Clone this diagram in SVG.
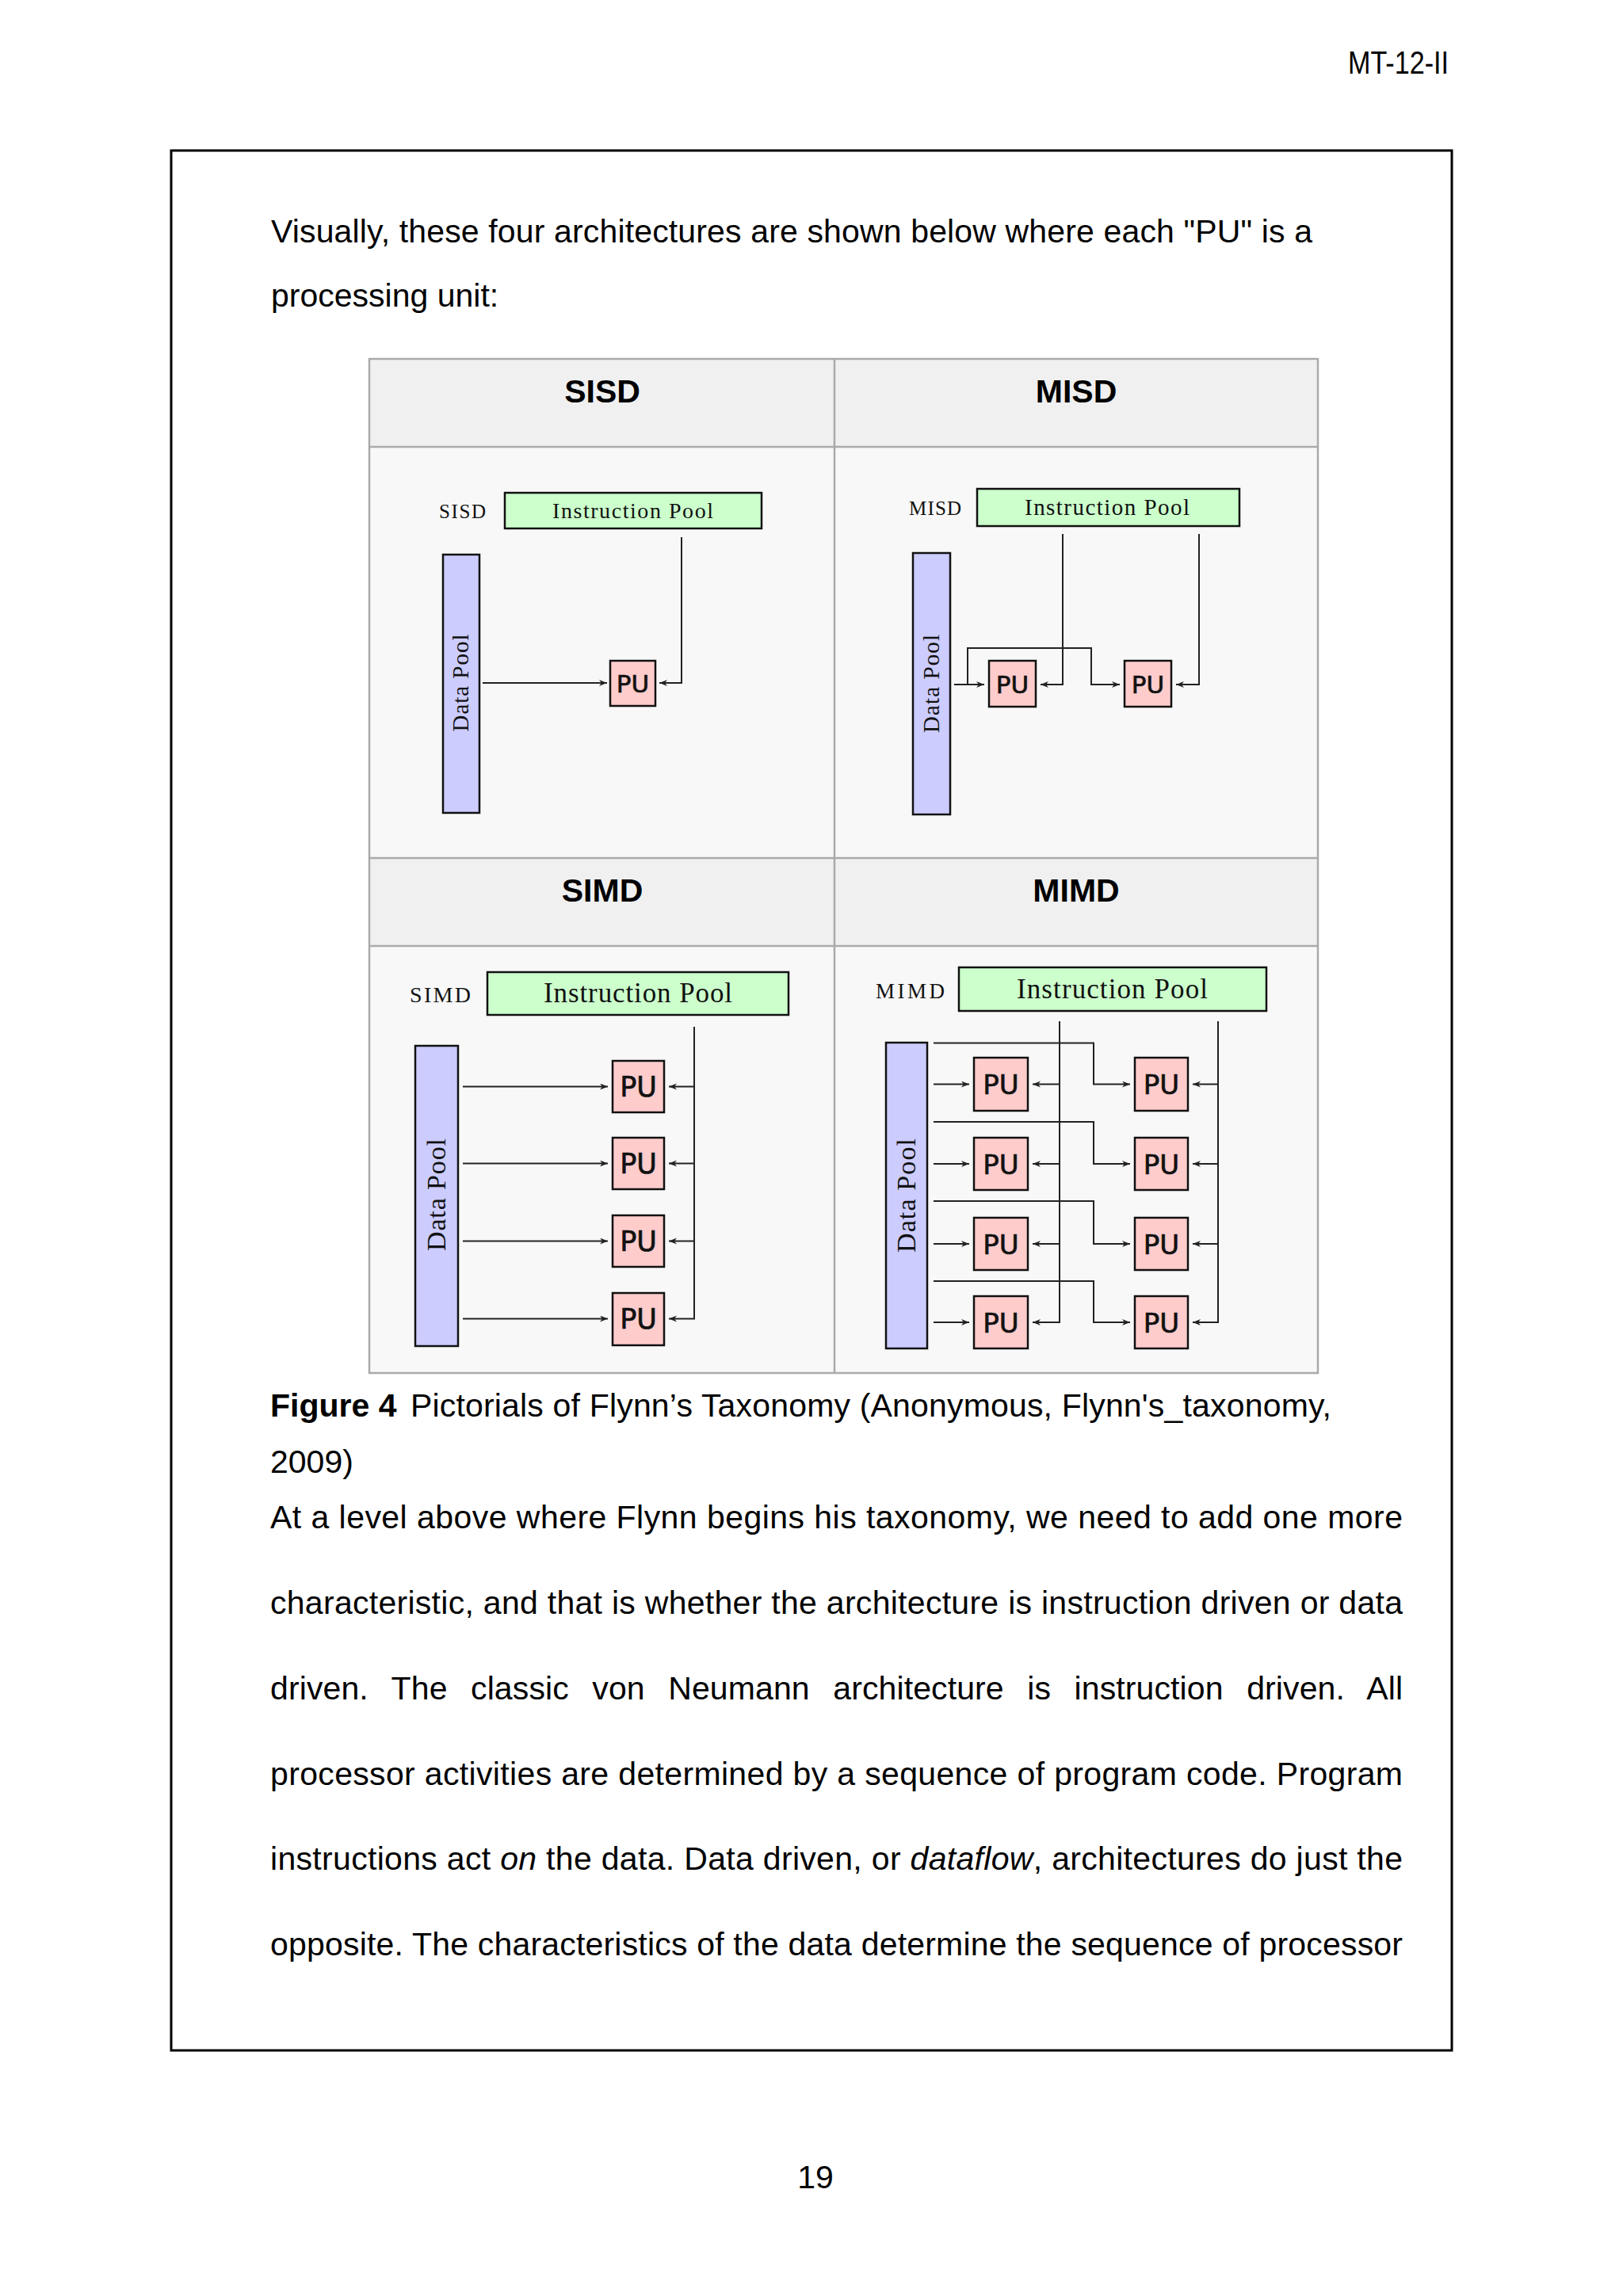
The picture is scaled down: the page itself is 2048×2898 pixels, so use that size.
<svg xmlns="http://www.w3.org/2000/svg" width="2048" height="2898" viewBox="0 0 2048 2898">
<style>
.body{font-family:"Liberation Sans",Arial,sans-serif;font-size:41px;fill:#000}
.hdr{font-family:"Liberation Sans",Arial,sans-serif;font-size:41px;font-weight:bold;text-anchor:middle;fill:#000}
.cm{font-family:"Liberation Serif","DejaVu Serif",serif;fill:#111}
.ip{fill:#ccffcc;stroke:#111;stroke-width:2.5}
.dp{fill:#ccccff;stroke:#111;stroke-width:2.5}
.pu{fill:#ffcccc;stroke:#111;stroke-width:2.5}
.put{font-family:"DejaVu Sans",sans-serif;text-anchor:middle;fill:#111;stroke:#111;stroke-width:0.7}
.cn{fill:none;stroke:#222;stroke-width:2}
.hcell{fill:#f0f0f0}
.ccell{fill:#f8f8f8}
.grid{fill:none;stroke:#aaaaaa;stroke-width:2.5}
</style>
<defs>
<marker id="ah" markerUnits="userSpaceOnUse" markerWidth="12" markerHeight="10" refX="10" refY="4" orient="auto">
<path d="M0,0 L10,4 L0,8 L3,4 z" fill="#222"/>
</marker>
</defs>
<rect x="0" y="0" width="2048" height="2898" fill="#ffffff"/>
<text class="body" x="1701" y="93" font-size="34" textLength="127" lengthAdjust="spacingAndGlyphs">MT-12-II</text>
<rect x="216" y="190" width="1616" height="2398" fill="none" stroke="#000" stroke-width="3"/>
<text class="body" x="342" y="306" textLength="1314" lengthAdjust="spacing">Visually, these four architectures are shown below where each "PU" is a</text>
<text class="body" x="342" y="387">processing unit:</text>

<g id="table">
<rect class="hcell" x="466" y="453" width="1197" height="111"/>
<rect class="ccell" x="466" y="564" width="1197" height="519"/>
<rect class="hcell" x="466" y="1083" width="1197" height="111"/>
<rect class="ccell" x="466" y="1194" width="1197" height="539"/>
<rect class="grid" x="466" y="453" width="1197" height="1280"/>
<line class="grid" x1="1053" y1="453" x2="1053" y2="1733"/>
<line class="grid" x1="466" y1="564" x2="1663" y2="564"/>
<line class="grid" x1="466" y1="1083" x2="1663" y2="1083"/>
<line class="grid" x1="466" y1="1194" x2="1663" y2="1194"/>
<text class="hdr" x="760" y="508">SISD</text>
<text class="hdr" x="1358" y="508">MISD</text>
<text class="hdr" x="760" y="1138">SIMD</text>
<text class="hdr" x="1358" y="1138">MIMD</text>
</g>

<g id="sisd-label"><text class="cm" x="554" y="654" font-size="25" textLength="59" lengthAdjust="spacing">SISD</text></g>
<g id="sisd-ip"><rect class="ip" x="637" y="622" width="324" height="45"/><text class="cm" x="697" y="654" font-size="28" textLength="203" lengthAdjust="spacing">Instruction Pool</text></g>
<g id="sisd-dp"><rect class="dp" x="559" y="700" width="46" height="326"/><text class="cm" x="581" y="862" font-size="29" text-anchor="middle" textLength="123" lengthAdjust="spacing" transform="rotate(-90 581 862)" dy="10">Data Pool</text></g>
<g id="sisd-pu"><rect class="pu" x="770" y="834" width="57" height="57"/><text class="put" x="798.5" y="874" font-size="31">PU</text></g>

<g id="misd-label"><text class="cm" x="1147" y="650" font-size="25" textLength="66" lengthAdjust="spacing">MISD</text></g>
<g id="misd-ip"><rect class="ip" x="1233" y="617" width="331" height="47"/><text class="cm" x="1293" y="650" font-size="29" textLength="208" lengthAdjust="spacing">Instruction Pool</text></g>
<g id="misd-dp"><rect class="dp" x="1152" y="698" width="47" height="330"/><text class="cm" x="1175" y="863" font-size="29" text-anchor="middle" textLength="124" lengthAdjust="spacing" transform="rotate(-90 1175 863)" dy="10">Data Pool</text></g>
<g id="misd-pu1"><rect class="pu" x="1248" y="834" width="59" height="58"/><text class="put" x="1277.5" y="874.5" font-size="31">PU</text></g>
<g id="misd-pu2"><rect class="pu" x="1419" y="834" width="59" height="58"/><text class="put" x="1448.5" y="874.5" font-size="31">PU</text></g>

<g id="simd-label"><text class="cm" x="517" y="1265" font-size="28" textLength="77" lengthAdjust="spacing">SIMD</text></g>
<g id="simd-ip"><rect class="ip" x="615" y="1227" width="380" height="54"/><text class="cm" x="686" y="1265" font-size="35" textLength="238" lengthAdjust="spacing">Instruction Pool</text></g>
<g id="simd-dp"><rect class="dp" x="524" y="1320" width="54" height="379"/><text class="cm" x="551" y="1508" font-size="34" text-anchor="middle" textLength="142" lengthAdjust="spacing" transform="rotate(-90 551 1508)" dy="11">Data Pool</text></g>
<g id="simd-pu1"><rect class="pu" x="773" y="1339" width="65" height="65"/><text class="put" x="805.5" y="1384" font-size="35">PU</text></g>
<g id="simd-pu2"><rect class="pu" x="773" y="1436" width="65" height="65"/><text class="put" x="805.5" y="1481" font-size="35">PU</text></g>
<g id="simd-pu3"><rect class="pu" x="773" y="1534" width="65" height="65"/><text class="put" x="805.5" y="1579" font-size="35">PU</text></g>
<g id="simd-pu4"><rect class="pu" x="773" y="1632" width="65" height="66"/><text class="put" x="805.5" y="1677" font-size="35">PU</text></g>

<g id="mimd-label"><text class="cm" x="1105" y="1260" font-size="27" textLength="87" lengthAdjust="spacing">MIMD</text></g>
<g id="mimd-ip"><rect class="ip" x="1210" y="1221" width="388" height="55"/><text class="cm" x="1283" y="1260" font-size="35" textLength="241" lengthAdjust="spacing">Instruction Pool</text></g>
<g id="mimd-dp"><rect class="dp" x="1118" y="1316" width="52" height="386"/><text class="cm" x="1144" y="1509" font-size="34" text-anchor="middle" textLength="144" lengthAdjust="spacing" transform="rotate(-90 1144 1509)" dy="11">Data Pool</text></g>
<g id="mimd-pu1a"><rect class="pu" x="1229" y="1335" width="68" height="67"/><text class="put" x="1263" y="1381" font-size="34">PU</text></g>
<g id="mimd-pu2a"><rect class="pu" x="1229" y="1436" width="68" height="66"/><text class="put" x="1263" y="1481.5" font-size="34">PU</text></g>
<g id="mimd-pu3a"><rect class="pu" x="1229" y="1537" width="68" height="66"/><text class="put" x="1263" y="1582.5" font-size="34">PU</text></g>
<g id="mimd-pu4a"><rect class="pu" x="1229" y="1636" width="68" height="66"/><text class="put" x="1263" y="1681.5" font-size="34">PU</text></g>
<g id="mimd-pu1b"><rect class="pu" x="1432" y="1335" width="67" height="67"/><text class="put" x="1465.5" y="1381" font-size="34">PU</text></g>
<g id="mimd-pu2b"><rect class="pu" x="1432" y="1436" width="67" height="66"/><text class="put" x="1465.5" y="1481.5" font-size="34">PU</text></g>
<g id="mimd-pu3b"><rect class="pu" x="1432" y="1537" width="67" height="66"/><text class="put" x="1465.5" y="1582.5" font-size="34">PU</text></g>
<g id="mimd-pu4b"><rect class="pu" x="1432" y="1636" width="67" height="66"/><text class="put" x="1465.5" y="1681.5" font-size="34">PU</text></g>

<g id="connectors">
<path class="cn" d="M609,862 H766" marker-end="url(#ah)"/>
<path class="cn" d="M860,678 V862 H832" marker-end="url(#ah)"/>

<path class="cn" d="M1204,864 H1242" marker-end="url(#ah)"/>
<path class="cn" d="M1221,864 V818 H1377 V864 H1413" marker-end="url(#ah)"/>
<path class="cn" d="M1341,674 V864 H1313" marker-end="url(#ah)"/>
<path class="cn" d="M1513,674 V864 H1484" marker-end="url(#ah)"/>

<path class="cn" d="M584,1371.5 H767" marker-end="url(#ah)"/>
<path class="cn" d="M584,1468.5 H767" marker-end="url(#ah)"/>
<path class="cn" d="M584,1566.5 H767" marker-end="url(#ah)"/>
<path class="cn" d="M584,1664.5 H767" marker-end="url(#ah)"/>
<path class="cn" d="M876,1296 V1664.5 H844" marker-end="url(#ah)"/>
<path class="cn" d="M876,1371.5 H844" marker-end="url(#ah)"/>
<path class="cn" d="M876,1468.5 H844" marker-end="url(#ah)"/>
<path class="cn" d="M876,1566.5 H844" marker-end="url(#ah)"/>

<path class="cn" d="M1178,1368.5 H1223" marker-end="url(#ah)"/>
<path class="cn" d="M1178,1469 H1223" marker-end="url(#ah)"/>
<path class="cn" d="M1178,1570 H1223" marker-end="url(#ah)"/>
<path class="cn" d="M1178,1669 H1223" marker-end="url(#ah)"/>
<path class="cn" d="M1178,1316.5 H1380 V1368.5 H1426" marker-end="url(#ah)"/>
<path class="cn" d="M1178,1416 H1380 V1469 H1426" marker-end="url(#ah)"/>
<path class="cn" d="M1178,1516 H1380 V1570 H1426" marker-end="url(#ah)"/>
<path class="cn" d="M1178,1617 H1380 V1669 H1426" marker-end="url(#ah)"/>
<path class="cn" d="M1337,1289 V1669 H1303" marker-end="url(#ah)"/>
<path class="cn" d="M1337,1368.5 H1303" marker-end="url(#ah)"/>
<path class="cn" d="M1337,1469 H1303" marker-end="url(#ah)"/>
<path class="cn" d="M1337,1570 H1303" marker-end="url(#ah)"/>
<path class="cn" d="M1537,1289 V1669 H1505" marker-end="url(#ah)"/>
<path class="cn" d="M1537,1368.5 H1505" marker-end="url(#ah)"/>
<path class="cn" d="M1537,1469 H1505" marker-end="url(#ah)"/>
<path class="cn" d="M1537,1570 H1505" marker-end="url(#ah)"/>
</g>

<text class="body" x="341" y="1788"><tspan font-weight="bold">Figure 4</tspan></text>
<text class="body" x="518" y="1788" textLength="1162" lengthAdjust="spacing">Pictorials of Flynn’s Taxonomy (Anonymous, Flynn's_taxonomy,</text>
<text class="body" x="341" y="1859">2009)</text>

<text class="body" x="341" y="1929" textLength="1429" lengthAdjust="spacing">At a level above where Flynn begins his taxonomy, we need to add one more</text>
<text class="body" x="341" y="2037" textLength="1429" lengthAdjust="spacing">characteristic, and that is whether the architecture is instruction driven or data</text>
<text class="body" x="341" y="2145" word-spacing="18" textLength="1429" lengthAdjust="spacing">driven. The classic von Neumann architecture is instruction driven. All</text>
<text class="body" x="341" y="2253" textLength="1429" lengthAdjust="spacing">processor activities are determined by a sequence of program code. Program</text>
<text class="body" x="341" y="2360" textLength="1429" lengthAdjust="spacing">instructions act <tspan font-style="italic">on</tspan> the data. Data driven, or <tspan font-style="italic">dataflow</tspan>, architectures do just the</text>
<text class="body" x="341" y="2468" textLength="1429" lengthAdjust="spacing">opposite. The characteristics of the data determine the sequence of processor</text>

<text class="body" x="1029" y="2762" font-size="32" text-anchor="middle">19</text>
</svg>
